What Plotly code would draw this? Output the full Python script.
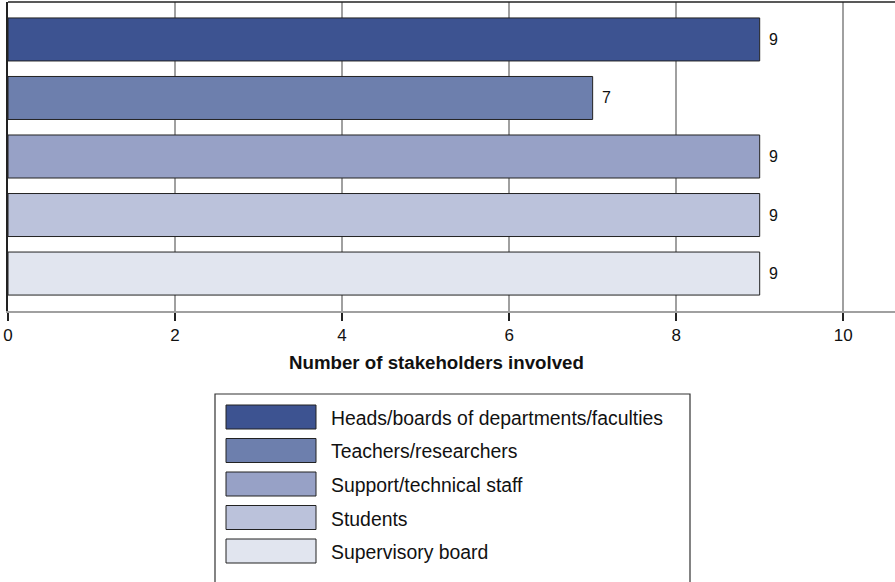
import plotly.graph_objects as go

categories = [
    "Heads/boards of departments/faculties",
    "Teachers/researchers",
    "Support/technical staff",
    "Students",
    "Supervisory board",
]
values = [9, 7, 9, 9, 9]
colors = ["#3d5391", "#6d7fad", "#97a1c6", "#bbc2db", "#e1e5ef"]
x_ticks = [0, 2, 4, 6, 8, 10]
x_title = "Number of stakeholders involved"

W, H = 895, 582
L, R, T, B = 8, 0, 2, 271
pw, ph = W - L - R, H - T - B

def px(x):
    return (x - L) / pw

def py(y):
    return (H - B - y) / ph

FONT = "Liberation Sans, Arial, Helvetica, sans-serif"

fig = go.Figure()
for i, (c, v, col) in enumerate(zip(categories, values, colors)):
    fig.add_trace(go.Bar(
        y=[i], x=[v], orientation="h", name=c,
        marker=dict(color=col, line=dict(color="#222222", width=1)),
        width=0.735, showlegend=False, hoverinfo="x+name",
    ))
    fig.add_annotation(x=v, y=i, xref="x", yref="y", text=str(v),
                       showarrow=False, xanchor="left", xshift=7,
                       font=dict(size=16, color="#111111", family=FONT))

# axis title
fig.add_annotation(x=px(436), y=py(362), xref="paper", yref="paper",
                   text="<b>" + x_title + "</b>", showarrow=False,
                   xanchor="center", yanchor="middle",
                   font=dict(size=18.7, color="#111111", family=FONT))

# legend box
shapes = [dict(type="rect", xref="paper", yref="paper",
               x0=px(215), x1=px(690), y0=py(394), y1=py(600),
               line=dict(color="#333333", width=1.2), fillcolor="white", layer="above")]
for i, (c, col) in enumerate(zip(categories, colors)):
    top = 405 + i * 33.5
    shapes.append(dict(type="rect", xref="paper", yref="paper",
                       x0=px(226), x1=px(316), y0=py(top), y1=py(top + 24),
                       line=dict(color="#222222", width=1), fillcolor=col, layer="above"))
    fig.add_annotation(x=px(329), y=py(top + 13), xref="paper", yref="paper",
                       text=c, showarrow=False, xanchor="left", yanchor="middle",
                       font=dict(size=19.4, color="#111111", family=FONT))
# top border line
shapes.append(dict(type="line", xref="paper", yref="paper", x0=0, x1=1, y0=1, y1=1,
                   line=dict(color="#222222", width=1.5)))

fig.update_layout(
    width=W, height=H,
    margin=dict(l=L, r=R, t=T, b=B, pad=0),
    paper_bgcolor="white", plot_bgcolor="white",
    shapes=shapes, bargap=0.265,
    font=dict(family=FONT, size=15, color="#111111"),
)
fig.update_xaxes(range=[0, 10.62], tickvals=x_ticks, ticktext=[str(t) for t in x_ticks],
                 showgrid=True, gridcolor="#a0a0a0", gridwidth=1.5,
                 showline=True, linecolor="#a0a0a0", linewidth=1.5,
                 ticks="outside", ticklen=8, tickcolor="#222222", tickwidth=1.5,
                 tickfont=dict(size=17, color="#111111"), zeroline=False)
fig.update_yaxes(range=[4.64, -0.64], showticklabels=False, showgrid=False,
                 showline=True, linecolor="#222222", linewidth=1.5, zeroline=False,
                 ticks="")

fig.write_html("out.html", config={"displayModeBar": False},
               post_script="document.body.style.margin='0';document.body.style.overflow='hidden';")
